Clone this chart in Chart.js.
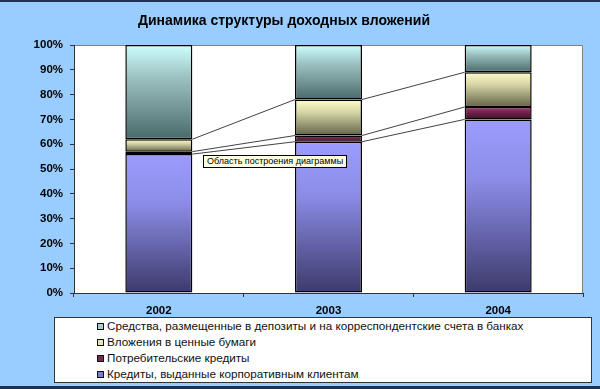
<!DOCTYPE html>
<html>
<head>
<meta charset="utf-8">
<script src="https://cdn.jsdelivr.net/npm/chart.js@4/dist/chart.umd.min.js"></script>
<style>
body { margin: 0; background: #fff; }
#wrap { position: relative; width: 600px; height: 389px; background: #99ccff; overflow: hidden; box-sizing: border-box; border-top: 2px solid #1f3050; border-bottom: 3px solid #1f3050; }
#myChart { position: absolute; left: 0; top: -2px; }
#legend { position: absolute; left: 54px; top: 315px; width: 536px; height: 64px; background: #fff; border: 1px solid #333; font: 11.7px "Liberation Sans", Arial, sans-serif; color: #111; }
.row { height: 16px; line-height: 16px; padding-left: 42px; white-space: nowrap; }
.mk { display: inline-block; width: 5px; height: 5px; border: 1px solid #111; margin-right: 3px; }
#tip { position: absolute; left: 203px; top: 153px; height: 11px; line-height: 11px; padding: 0 3px; background: #ffffe1; border: 1px solid #000; font: 9px "Liberation Sans", Arial, sans-serif; color: #000; white-space: nowrap; }
</style>
</head>
<body>
<div id="wrap">
  <canvas id="myChart" width="600" height="389"></canvas>
  <div id="legend"></div>
  <div id="tip">Область построения диаграммы</div>
</div>
<script>
var years = ['2002', '2003', '2004'];
var names = ['Кредиты, выданные корпоративным клиентам', 'Потребительские кредиты', 'Вложения в ценные бумаги', 'Средства, размещенные в депозиты и на корреспондентские счета в банках'];
var corporate = [56, 61, 70];
var consumer = [1, 2.5, 5];
var securities = [5, 14.5, 14];
var deposits = [38, 22, 11];
var series = [corporate, consumer, securities, deposits];

// light top -> dark bottom, like the old excel fill
var grads = [
  ['#9c9cff', '#8c8ce8', '#3c3a6a'],
  ['#a83c72', '#7c2652', '#3a0f25'],
  ['#ffffcc', '#d6d6a6', '#626248'],
  ['#ccffff', '#9cc0c0', '#4a6a6a']
];
var markColors = ['#7a7ad8', '#7c2652', '#e4e4b8', '#a8cccc'];

function fillFor(ds) {
  return function(ctx) {
    var chart = ctx.chart;
    var y = chart.scales.y;
    if (!y || ctx.type !== 'data') return grads[ds][1];
    var i = ctx.dataIndex;
    var below = 0;
    for (var k = 0; k < ds; k++) below += series[k][i];
    var top = y.getPixelForValue(below + series[ds][i]);
    var bot = y.getPixelForValue(below);
    if (!isFinite(top) || !isFinite(bot) || top === bot) return grads[ds][1];
    var g = chart.ctx.createLinearGradient(0, top, 0, bot);
    g.addColorStop(0, grads[ds][0]);
    g.addColorStop(0.35, grads[ds][1]);
    g.addColorStop(1, grads[ds][2]);
    return g;
  };
}

var datasets = series.map(function(s, i) {
  return {
    label: names[i],
    data: s,
    backgroundColor: fillFor(i),
    borderColor: '#000',
    borderWidth: 1.5,
    borderSkipped: false,
    categoryPercentage: 1,
    barPercentage: 0.395
  };
});

var plotBox = {
  id: 'plotBox',
  beforeDraw: function(chart) {
    var a = chart.chartArea, c = chart.ctx;
    c.save();
    c.fillStyle = '#fff';
    c.fillRect(a.left, a.top, a.right - a.left, a.bottom - a.top);
    c.strokeStyle = '#808080';
    c.lineWidth = 1;
    c.beginPath();
    c.moveTo(a.left, a.top + 0.5);
    c.lineTo(a.right - 0.5, a.top + 0.5);
    c.lineTo(a.right - 0.5, a.bottom);
    c.stroke();
    c.font = 'bold 14px "Liberation Sans", Arial, sans-serif';
    c.fillStyle = '#000';
    c.textAlign = 'center';
    c.textBaseline = 'middle';
    c.fillText('Динамика структуры доходных вложений', 284, 21);
    c.restore();
  },
  afterDatasetsDraw: function(chart) {
    // series lines between the stacks
    var c = chart.ctx;
    c.save();
    c.strokeStyle = '#111';
    c.lineWidth = 0.8;
    for (var d = 0; d < series.length - 1; d++) {
      var bars = chart.getDatasetMeta(d).data;
      for (var i = 0; i < bars.length - 1; i++) {
        var a = bars[i], b = bars[i + 1];
        c.beginPath();
        c.moveTo(a.x + a.width / 2, a.y);
        c.lineTo(b.x - b.width / 2, b.y);
        c.stroke();
      }
    }
    c.restore();
  }
};

var ctx = document.getElementById('myChart').getContext('2d');
var myChart = new Chart(ctx, {
  type: 'bar',
  data: { labels: years, datasets: datasets },
  options: {
    responsive: false,
    animation: false,
    layout: { padding: { top: 45, right: 17, left: 0, bottom: 0 } },
    plugins: { legend: { display: false }, tooltip: { enabled: false }, title: { display: false } },
    scales: {
      x: {
        stacked: true,
        afterFit: function(s) { s.height = 96; },
        grid: { drawOnChartArea: false, tickLength: 4, color: '#333' },
        border: { color: '#333' },
        ticks: { color: '#000', padding: 7, font: { family: '"Liberation Sans", Arial, sans-serif', size: 11.5, weight: 'bold' } }
      },
      y: {
        stacked: true,
        min: 0,
        max: 100,
        afterFit: function(s) { s.width = 74; },
        grid: { drawOnChartArea: false, tickLength: 4, color: '#333' },
        border: { color: '#333' },
        ticks: {
          stepSize: 10,
          padding: 7,
          color: '#000',
          font: { family: '"Liberation Sans", Arial, sans-serif', size: 11.5, weight: 'bold' },
          callback: function(v) { return v + '%'; }
        }
      }
    }
  },
  plugins: [plotBox]
});

// legend, top series first like excel
var html = '';
for (var i = series.length - 1; i >= 0; i--) {
  html += '<div class="row"><span class="mk" style="background:' + markColors[i] + '"></span>' + names[i] + '</div>';
}
document.getElementById('legend').innerHTML = html;
</script>
</body>
</html>
